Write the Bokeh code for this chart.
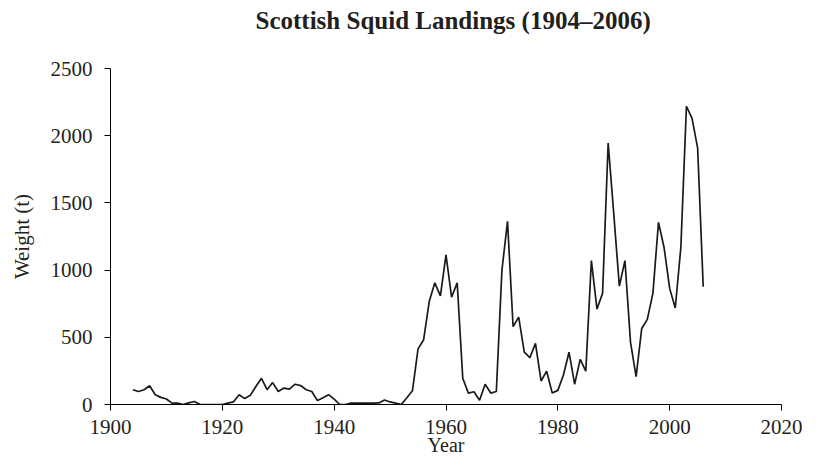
from bokeh.plotting import figure
from bokeh.models import Range1d, FixedTicker, LinearAxis
from bokeh.embed import file_html
from bokeh.resources import INLINE

# ---- data ----
years = list(range(1904, 2007))
weights = [
    110, 97, 110, 139, 73, 53, 41, 10, 10, 0,          # 1904-1913
    12, 22, 0, 0, 0, 0, 0, 10, 20, 73,                 # 1914-1923
    44, 68, 134, 195, 110, 163, 97, 122, 115, 151,     # 1924-1933
    141, 110, 97, 29, 51, 73, 40, 0, 0, 10,            # 1934-1943
    10, 10, 10, 10, 12, 34, 19, 10, 0, 50,             # 1944-1953
    102, 414, 482, 766, 905, 808, 1114, 798, 905, 195, # 1954-1963
    85, 95, 32, 151, 85, 97, 998, 1363, 579, 650,      # 1964-1973
    389, 348, 455, 175, 248, 85, 105, 219, 389, 151,   # 1974-1983
    336, 248, 1071, 710, 827, 1946, 1420, 881, 1071, 462,  # 1984-1993
    207, 565, 633, 827, 1355, 1168, 864, 718, 1168, 2219,  # 1994-2003
    2129, 1910, 876,                                   # 2004-2006
]
x_ticks = [1900, 1920, 1940, 1960, 1980, 2000, 2020]
y_ticks = [0, 500, 1000, 1500, 2000, 2500]
title_text = "Scottish Squid Landings (1904\u20132006)"

TXT = "#231f20"
FONT = "Liberation Serif"

p = figure(
    width=802, height=458,
    output_backend="svg", toolbar_location=None,
    x_range=Range1d(1900, 2020), y_range=Range1d(0, 2500),
    min_border_left=110, min_border_right=21,
    min_border_top=68, min_border_bottom=54,
    title=title_text,
)
p.outline_line_color = None
p.xgrid.visible = False
p.ygrid.visible = False
p.background_fill_color = "white"
p.border_fill_color = "white"

xax = p.below[0]
yax = p.left[0]

p.line(years, weights, line_color="#1a1a1a", line_width=1.7)

for ax, ticks in ((xax, x_ticks), (yax, y_ticks)):
    ax.ticker = FixedTicker(ticks=ticks)
    ax.minor_tick_line_color = None
    ax.major_tick_out = 6
    ax.major_tick_in = 0
    ax.axis_line_color = "black"
    ax.major_tick_line_color = "black"
    ax.major_label_text_font = FONT
    ax.major_label_text_font_size = "21px"
    ax.major_label_text_color = TXT
    ax.axis_label_text_font = FONT
    ax.axis_label_text_font_style = "normal"
    ax.axis_label_text_color = TXT

xax.axis_label = "Year"
xax.axis_label_text_font_size = "20px"
xax.major_label_standoff = 9
xax.axis_label_standoff = -3

yax.axis_label = "Weight (t)"
yax.axis_label_text_font_size = "21px"
yax.major_label_standoff = 12
yax.axis_label_standoff = 14

# blank spacer in the top panel (white tick, no label) so the title sits higher
spacer = LinearAxis(
    ticker=FixedTicker(ticks=x_ticks[:1]), major_tick_out=35, major_tick_in=0,
    axis_line_color=None, major_tick_line_color="white",
    minor_tick_line_color=None, major_label_standoff=0,
    major_label_overrides={x_ticks[0]: ""},
    major_label_text_color=None, major_label_text_font_size="1px",
)
p.add_layout(spacer, "above")

p.title.align = "left"
p.title.offset = 145
p.title.standoff = 0
p.title.text_font = FONT
p.title.text_font_size = "25px"
p.title.text_font_style = "bold"
p.title.text_color = TXT

open("out.html", "w").write(file_html(p, INLINE))
